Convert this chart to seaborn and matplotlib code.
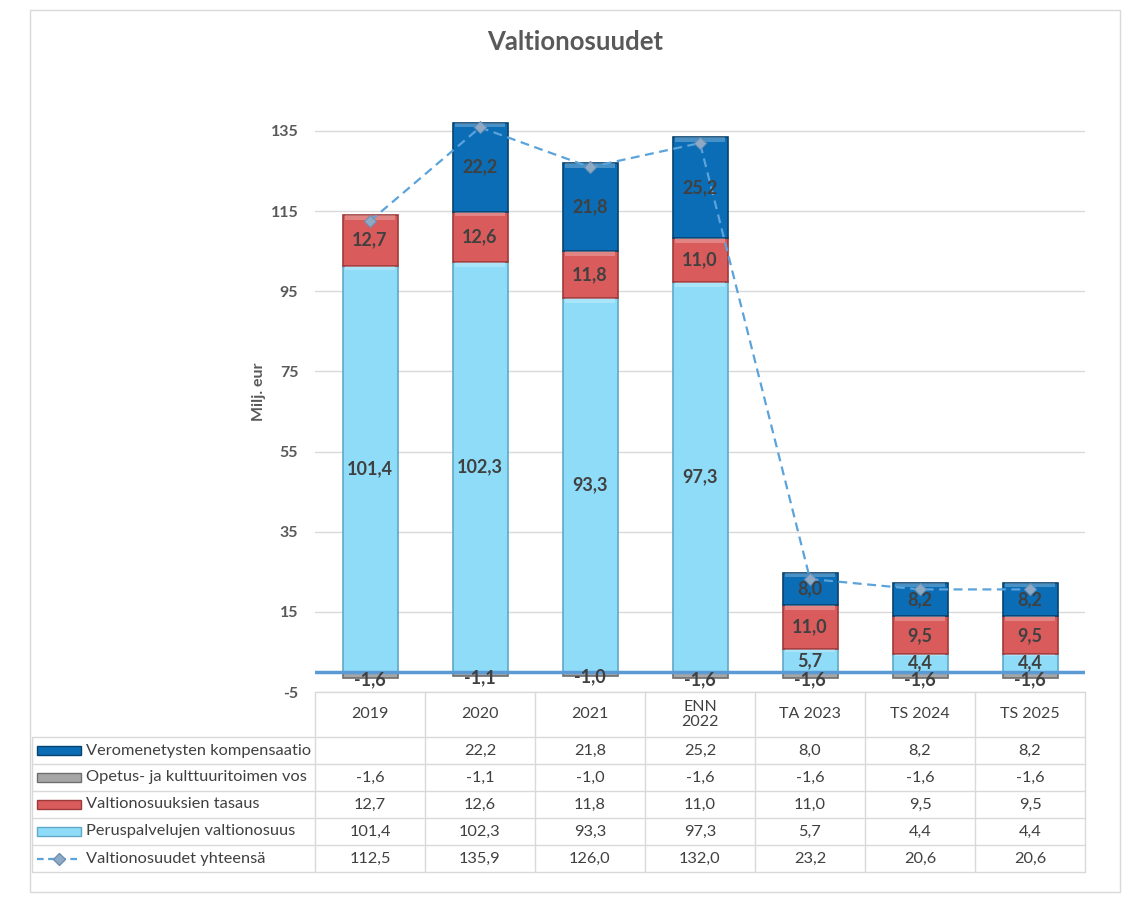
import numpy as np
import matplotlib
matplotlib.use("Agg")
import matplotlib.pyplot as plt
from matplotlib.patches import Rectangle
import seaborn as sns

# data
categories = ["2019", "2020", "2021", "ENN\n2022", "TA 2023", "TS 2024", "TS 2025"]
peruspalvelut = [101.4, 102.3, 93.3, 97.3, 5.7, 4.4, 4.4]
tasaus = [12.7, 12.6, 11.8, 11.0, 11.0, 9.5, 9.5]
opetus = [-1.6, -1.1, -1.0, -1.6, -1.6, -1.6, -1.6]
veromenetykset = [np.nan, 22.2, 21.8, 25.2, 8.0, 8.2, 8.2]
yhteensa = [112.5, 135.9, 126.0, 132.0, 23.2, 20.6, 20.6]

series_names = ["Veromenetysten kompensaatio", "Opetus- ja kulttuuritoimen vos",
                "Valtionosuuksien tasaus", "Peruspalvelujen valtionosuus",
                "Valtionosuudet yhteensä"]

c_dark = "#0B6DB5"
c_dark_edge = "#06426F"
c_red = "#D95B5B"
c_red_edge = "#9E3A3A"
c_light = "#8EDCF8"
c_light_edge = "#5FA9C8"
c_gray = "#A6A6A6"
c_gray_edge = "#6E6E6E"
c_line = "#5BA3DB"
txt = "#404040"

sns.set_theme(style="white")
plt.rcParams["font.family"] = ["Lato", "DejaVu Sans"]

W, H = 1126, 908
fig = plt.figure(figsize=(W / 100, H / 100), dpi=100)

# plot area in pixels: x 315..1085, y(-5)=692, y(135)=131
ax_left, ax_right = 315, 1085
y_m5, y_135 = 692, 131
ppu = (y_m5 - y_135) / 140.0
ymax = 145
top_px = y_135 - (ymax - 135) * ppu
ax = fig.add_axes([ax_left / W, (H - y_m5) / H, (ax_right - ax_left) / W, (y_m5 - top_px) / H])

x = np.arange(len(categories))
bw = 0.5


def seg(bottom, vals, face, edge, z=3):
    vals = np.asarray(vals, dtype=float)
    ok = ~np.isnan(vals)
    ax.bar(x[ok], vals[ok], bw, bottom=np.asarray(bottom)[ok], color=face,
           edgecolor=edge, linewidth=1.2, zorder=z)
    # simple bevel highlight on top of each segment
    for xi, b, v in zip(x[ok], np.asarray(bottom)[ok], vals[ok]):
        top = b + v if v > 0 else b
        h = min(abs(v) * 0.12, 1.2)
        ax.add_patch(Rectangle((xi - bw / 2 + 0.02, top - h), bw - 0.04, h,
                               facecolor="white", alpha=0.25, lw=0, zorder=z + 0.1))


zero = np.zeros(len(x))
per = np.array(peruspalvelut)
tas = np.array(tasaus)
vero = np.array(veromenetykset)
seg(zero, opetus, c_gray, c_gray_edge)
seg(zero, per, c_light, c_light_edge)
seg(per, tas, c_red, c_red_edge)
seg(per + tas, vero, c_dark, c_dark_edge)


def fmt(v):
    return f"{v:.1f}".replace(".", ",")


lab = dict(ha="center", va="center", fontsize=13, fontweight="bold", color=txt, zorder=9)
for i in x:
    ax.text(i, per[i] / 2, fmt(per[i]), **lab)
    ax.text(i, per[i] + tas[i] / 2, fmt(tas[i]), **lab)
    if not np.isnan(vero[i]):
        ax.text(i, per[i] + tas[i] + vero[i] / 2, fmt(vero[i]), **lab)
    ax.text(i, opetus[i] * 1.25, fmt(opetus[i]), **lab)

sns.lineplot(x=x, y=yhteensa, ax=ax, color=c_line, linestyle=(0, (4, 2.5)), linewidth=1.6,
             marker="D", markersize=6, markerfacecolor="#8FAAC4", markeredgecolor="#6C90B4",
             zorder=7)

ax.axhline(0, color="#5B9BD5", linewidth=2.5, zorder=5)
ax.set_xlim(-0.5, len(x) - 0.5)
ax.set_ylim(-5, ymax)
ax.set_yticks(np.arange(-5, 136, 20))
ax.set_yticklabels([str(t) for t in np.arange(-5, 136, 20)], fontsize=11.5,
                   fontweight="bold", color="#595959")
ax.tick_params(axis="y", length=0, pad=12)
ax.set_xticks([])
ax.yaxis.grid(True, color="#D9D9D9", linewidth=1)
ax.set_axisbelow(True)
for s in ax.spines.values():
    s.set_visible(False)
ax.set_ylabel("Milj. eur", fontsize=11.5, fontweight="bold", color="#595959", labelpad=3)
ax.patch.set_alpha(0)

# overlay in pixel coordinates for frame, title and data table
ov = fig.add_axes([0, 0, 1, 1], zorder=-1)
ov.set_xlim(0, W)
ov.set_ylim(H, 0)
ov.axis("off")
ov.add_patch(Rectangle((30, 10), 1090, 882, fill=False, edgecolor="#D9D9D9", lw=1))
fig.text(575 / W, 1 - 42 / H, "Valtionosuudet", ha="center", va="center",
         fontsize=18.5, fontweight="bold", color="#595959")

ov2 = fig.add_axes([0, 0, 1, 1])
ov2.set_xlim(0, W)
ov2.set_ylim(H, 0)
ov2.axis("off")
grid_c = "#D9D9D9"
col_w = (ax_right - ax_left) / len(categories)
col_edges = [ax_left + k * col_w for k in range(len(categories) + 1)]
hdr_top, hdr_bot = 692, 737
row_h = 27
row_edges = [hdr_bot + k * row_h for k in range(len(series_names) + 1)]
tab_left = 32

for xe in col_edges:
    ov2.plot([xe, xe], [hdr_top, row_edges[-1]], color=grid_c, lw=1)
ov2.plot([tab_left, tab_left], [hdr_bot, row_edges[-1]], color=grid_c, lw=1)
ov2.plot([ax_left, ax_right], [hdr_top, hdr_top], color=grid_c, lw=1)
for ye in row_edges:
    ov2.plot([tab_left, ax_right], [ye, ye], color=grid_c, lw=1)

for k, c in enumerate(categories):
    ov2.text(col_edges[k] + col_w / 2, (hdr_top + hdr_bot) / 2, c, ha="center", va="center",
             fontsize=11.5, color=txt, linespacing=1.15)

rows = [veromenetykset, opetus, tasaus, peruspalvelut, yhteensa]
keys = [(c_dark, c_dark_edge), (c_gray, c_gray_edge), (c_red, c_red_edge),
        (c_light, c_light_edge), None]
for r, (name, vals, key) in enumerate(zip(series_names, rows, keys)):
    yc = row_edges[r] + row_h / 2
    if key is None:
        ov2.plot([37, 80], [yc, yc], color=c_line, lw=1.6, linestyle=(0, (3, 2)))
        ov2.plot([58.5], [yc], marker="D", markersize=6, color="#8FAAC4",
                 markeredgecolor="#6C90B4")
    else:
        ov2.add_patch(Rectangle((37, yc - 4.5), 44, 9, facecolor=key[0], edgecolor=key[1], lw=1))
    ov2.text(86, yc, name, ha="left", va="center", fontsize=11.8, color=txt)
    for k, v in enumerate(vals):
        if not np.isnan(v):
            ov2.text(col_edges[k] + col_w / 2, yc, fmt(v), ha="center", va="center",
                     fontsize=11.8, color=txt)

fig.savefig("out.png", dpi=100, facecolor="white")
